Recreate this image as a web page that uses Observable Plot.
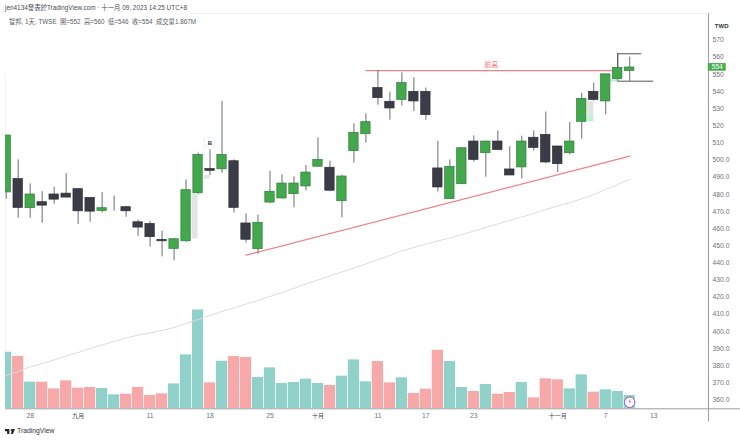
<!DOCTYPE html>
<html><head><meta charset="utf-8">
<script src="https://cdn.jsdelivr.net/npm/d3@7"></script>
<script src="https://cdn.jsdelivr.net/npm/@observablehq/plot@0.6"></script>
<style>
html,body{margin:0;padding:0;background:#fff;overflow:hidden}
body{width:740px;height:440px;position:relative;font-family:"Liberation Sans","Noto Sans CJK TC",sans-serif}
#chart{position:absolute;left:0;top:0}
.t{position:absolute;white-space:pre;line-height:10px;color:#4a4d55}
</style></head><body>
<div id="chart"></div>
<div class="t" style="left:5px;top:3px;font-size:6.4px">jen4134發表於TradingView.com · 十一月 09, 2023 14:25 UTC+8</div>
<div class="t" style="left:9px;top:16.5px;font-size:6.3px;color:#5a5d66">智邦, 1天, TWSE  開=552  高=560  低=546  收=554  成交量1.867M</div>
<div class="t" style="left:5px;top:426px;font-size:6.8px;color:#333;display:flex;align-items:center;gap:2px"><svg width="10" height="5" viewBox="0 0 14 7"><path d="M0 0H6V7H3V3H0ZM9.5 0A1.5 1.5 0 1 1 9.49 0ZM11 7H8L11 0H14Z" fill="#222"/></svg>TradingView</div>
<script>
const opens=[481.1,488.9,471.9,475.4,479.9,480.4,483,477.9,470.3,477,472.5,463.7,462.7,453.4,448.2,452.6,480.6,494.8,494.6,499.3,463,448,475.2,477.6,480.1,484.6,496.1,495.5,476,505.2,515.1,542,534,535.1,539.8,539.8,495.1,477.2,485.9,510.8,504,510.8,494.5,495.7,513,514.7,507.9,504,522.3,539.8,534.2,547.2,552];
const highs=[514.3,500.1,486.1,481.6,484.1,492.1,483.3,478,481,479,472.9,465,464.3,458.5,454,488.4,504,506,534.2,500.1,468.6,467.9,493.5,491.4,490.2,496.8,513,499.4,491.2,521.1,527,552.3,539.6,550.9,548,542,511,500.1,506.9,514.1,510.8,517,507.7,513.9,517,528,508,521.9,539,544.9,550,562,560];
const lows=[477.2,466.1,466,463.1,474.2,478,462.5,463.7,469.2,470.1,466.6,455.5,449.1,443.5,441.2,452,480,491,492.3,469,451.6,445.1,474.5,477.2,472.1,481.9,496,481.5,466.3,498.2,509.9,532,523.3,531.5,528.3,523.3,481.3,477,485.9,498.8,490,505.4,491,489,505.2,497.8,492.7,503,512.2,534.3,526.4,546,546];
const closes=[514.3,472.1,479.9,473.4,476.9,478.1,470.1,469.9,471.9,477,470.1,460.6,455,452.6,453.8,482.4,503,493.7,503,472.1,453.5,463.4,481.5,486.3,486.3,492.7,500.1,482.1,490.4,515.9,522.1,536.1,530.1,544.9,534.2,526.2,484,496,506.9,500.1,510.8,505.8,491,510.8,507.1,498.6,497.6,510.8,535.7,535.1,550,553.8,554];
const volumes=[7.94,7.34,3.74,3.74,2.8,3.93,2.9,2.99,2.85,1.96,2.06,2.99,1.87,2.1,3.5,7.57,13.88,3.64,6.68,7.34,7.2,4.39,5.75,3.55,3.69,4.16,3.55,3.27,4.58,6.87,3.79,6.64,3.64,4.35,2.15,2.76,8.22,6.64,2.99,2.43,3.41,2.06,2.29,3.69,1.54,4.21,4.07,2.8,4.77,2.34,2.66,2.43,1.867];
const ma=[374.3,376.6,379.3,381.3,383.4,385.7,387.7,390.1,392.1,394.1,396.2,397.9,399.1,400.6,402.3,404.7,407,409.3,411.7,413.7,416,418.1,420.4,422.7,425.1,427.7,430,432.4,434.7,437,439.4,442,444.3,447,449,451,452.8,454.5,456.6,458.6,460.7,462.7,464.8,466.8,468.8,471.2,473.2,475.2,477.3,479.9,482.8,485.8,488.7];
const priceTicks=[570,560,550,540,530,520,510,500,490,480,470,460,450,440,430,420,410,400,390,380,370,360];
const dayTicks=[2,12,17,22,31,35,39,50,54];
const dayLabels=["28","11","18","25","11","17","23","7","13"];
const monthTicks=[6,26,46];
const monthLabels=["九月","十月","十一月"];
const ghosts=[
 {x1:15.5,x2:16,y1:454,y2:479.9,c:"#e4e4e4"},
 {x1:16.5,x2:17,y1:488.8,y2:491,c:"#e4e4e4"},
 {x1:48.5,x2:49,y1:525.8,y2:534,c:"#e2e3df"},
 {x1:48.5,x2:49,y1:522.3,y2:525.8,c:"#bdf3d3"},
 {x1:50.4,x2:51,y1:545.4,y2:547,c:"#bdf3d3"}
];
const resistance=[{a:30,b:50.6,p:552.2}];
const trend=[{i:20,p:444.5},{i:52,p:502.3}];
const hiLine=[{a:51,b:53,p:562}];
const loLine=[{a:51,b:54,p:546}];

const xMin=-0.058,xMax=58.57,yMin=354.87,yMax=585.5;
const volUnit=4.154; // price-axis units per 1M of volume (volume pane shares the frame)
const idx=d3.range(opens.length);
const up=i=>closes[i]>=opens[i];
const GREEN="#43a84c",GREENS="#2e7d3b",DARK="#3a3d47",DARKS="#2b2e36",WICK="#6b6e75";
const axisC="#6f727a";

const plot=Plot.plot({
  width:740,height:440,marginLeft:5,marginRight:32,marginTop:13,marginBottom:31.7,
  style:{fontFamily:'"Liberation Sans","Noto Sans CJK TC",sans-serif',background:"#fff"},
  x:{type:"linear",domain:[xMin,xMax],axis:null},
  y:{domain:[yMin,yMax],axis:null},
  marks:[
    Plot.ruleY([yMax],{x1:15.3,x2:xMax,stroke:"#f0f1f3"}),
    Plot.ruleX([xMin],{y1:yMin,y2:550,stroke:"#f3f4f6"}),
    Plot.rectY(idx,{x1:i=>i-0.47,x2:i=>i+0.47,y1:yMin,y2:i=>yMin+volumes[i]*volUnit,fill:i=>up(i)?"#90d2c9":"#f7a9a9",clip:true}),
    Plot.line(idx,{x:i=>i,y:i=>ma[i],stroke:"#dcdcdc",strokeWidth:1,clip:true}),
    Plot.rect(ghosts,{x1:"x1",x2:"x2",y1:"y1",y2:"y2",fill:"c"}),
    Plot.ruleY(resistance,{x1:"a",x2:"b",y:"p",stroke:"#f08088",strokeWidth:1.2}),
    Plot.line(trend,{x:"i",y:"p",stroke:"#f08088",strokeWidth:1.2}),
    Plot.ruleX(idx,{x:i=>i,y1:i=>lows[i],y2:i=>highs[i],stroke:WICK,strokeWidth:1,clip:true}),
    Plot.rect(idx,{x1:i=>i-0.39,x2:i=>i+0.39,y1:i=>opens[i],y2:i=>closes[i],
      fill:i=>up(i)?GREEN:DARK,
      stroke:i=>opens[i]===closes[i]?WICK:(up(i)?GREENS:DARKS),strokeWidth:0.7,clip:true}),
    Plot.ruleY(hiLine,{x1:"a",x2:"b",y:"p",stroke:"#555",strokeWidth:1}),
    Plot.ruleY(loLine,{x1:"a",x2:"b",y:"p",stroke:"#555",strokeWidth:1}),
    Plot.ruleX(hiLine,{x:"a",y1:553.8,y2:"p",stroke:"#555",strokeWidth:1}),
    Plot.text(["前高"],{x:40.45,y:555.6,text:d=>d,fill:"#f0757d",fontSize:7}),
    Plot.rect([0],{x1:16.54,x2:17.46,y1:506.6,y2:512.8,fill:"#fff",stroke:"#eceef2",strokeWidth:0.8,rx:2}),
    Plot.text(["B"],{x:17,y:509.7,text:d=>d,fill:"#333",fontSize:6,fontWeight:"bold"}),
    Plot.ruleX([xMax],{y1:347.2,y2:yMax,stroke:"#9a9da3",strokeWidth:1}),
    Plot.ruleY([yMin],{x1:xMin,x2:61.25,stroke:"#9a9da3",strokeWidth:1}),
    Plot.axisY({anchor:"right",ticks:priceTicks,tickSize:0,tickPadding:4,fontSize:6.8,color:axisC,
      tickFormat:d=>d>500?String(d):d.toFixed(1),label:null}),
    Plot.axisX({anchor:"bottom",ticks:dayTicks,tickSize:0,tickPadding:4.5,fontSize:6.8,color:axisC,
      tickFormat:d=>dayLabels[dayTicks.indexOf(d)],label:null}),
    Plot.axisX({anchor:"bottom",ticks:monthTicks,tickSize:0,tickPadding:4.5,fontSize:6,color:"#444",
      tickFormat:d=>monthLabels[monthTicks.indexOf(d)],label:null}),
    Plot.text(["TWD"],{x:59.67,y:577.9,text:d=>d,fill:"#333",fontSize:6,fontWeight:"bold"}),
    Plot.rect([0],{x1:58.55,x2:60.05,y1:551.8,y2:556.3,fill:"#4cae50"}),
    Plot.text(["554"],{x:59.3,y:554.3,text:d=>d,fill:"#fff",fontSize:6.6}),
    Plot.dot([0],{x:52,y:358.7,r:5.2,fill:"#fff",stroke:"#9b4fc9",strokeWidth:1}),
    Plot.text(["⚡"],{x:52,y:358.7,text:d=>d,fill:"#9b4fc9",fontSize:7,fontFamily:"DejaVu Sans"})
  ]
});
document.getElementById("chart").append(plot);
</script>
</body></html>
